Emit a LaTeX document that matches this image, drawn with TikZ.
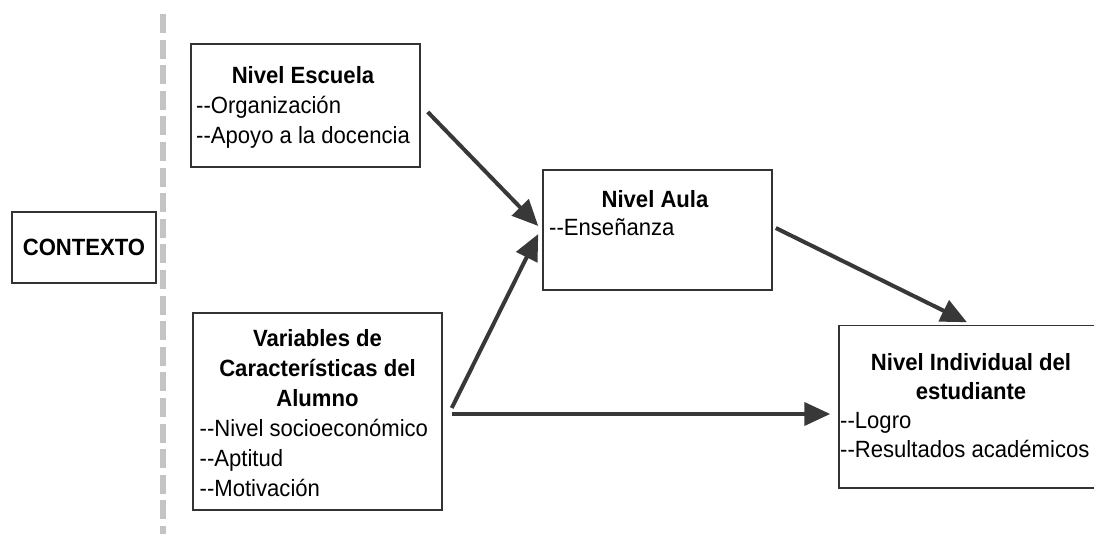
\documentclass[tikz,border=0pt]{standalone}
\usepackage{fontspec}
\setmainfont{Liberation Sans}[FakeStretch=0.94]
\usetikzlibrary{arrows.meta}
\definecolor{boxcol}{HTML}{333333}
\definecolor{arrcol}{HTML}{383838}
\definecolor{dashcol}{HTML}{C4C4C4}
\newcommand\dd{-\kern0pt-}
\begin{document}
\begin{tikzpicture}[x=1pt,y=-1pt,
  box/.style={draw=boxcol,line width=1.5pt,inner sep=0pt,fill=white},
  head/.style={inner sep=0pt,anchor=north,align=center,font=\fontsize{23.5}{30}\selectfont\bfseries},
  list/.style={inner sep=0pt,anchor=north west,align=left,font=\fontsize{23.5}{30}\selectfont},
  arr/.style={draw=arrcol,line width=4pt,-{Triangle[length=26pt,width=23pt]}},
  sep/.style={draw=dashcol,line width=5.5pt,dash pattern=on 19pt off 6.6pt}]
\useasboundingbox[fill=white] (0,0) rectangle (1094,534);
% separator
\coordinate (sepTop) at (163,14);
\coordinate (sepBot) at (163,545);
\draw[sep] (sepTop) -- (sepBot);
% boxes
\node[box,minimum width=144pt,minimum height=71pt,font=\fontsize{23.5}{30}\selectfont\bfseries] (ctx) at (84,247.5) {CONTEXTO};
\node[box,minimum width=229pt,minimum height=123pt] (esc) at (305.5,105.5) {};
\node[box,minimum width=229pt,minimum height=120pt] (aula) at (657.5,230) {};
\node[box,minimum width=249pt,minimum height=197pt] (var) at (317.5,411.5) {};
\node[box,minimum width=264pt,minimum height=162.5pt] (ind) at (971,406.75) {};
% texts: baseline - 21 = top
\node[head] (escH) at (303,62.5) {\strut Nivel Escuela};
\node[list] (escL) at (196,92.5) {\strut\dd Organización\\\strut\dd Apoyo a la docencia};
\node[head,font=\fontsize{23.5}{28}\selectfont\bfseries] (aulaH) at (655,187.4) {\strut Nivel Aula};
\node[list,font=\fontsize{23.5}{28}\selectfont] (aulaL) at (549,215.4) {\strut\dd Enseñanza};
\node[head] (varH) at (317.5,325) {\strut Variables de\\\strut Características del\\\strut Alumno};
\node[list] (varL) at (199.5,415) {\strut\dd Nivel socioeconómico\\\strut\dd Aptitud\\\strut\dd Motivación};
\node[head,font=\fontsize{23.5}{29}\selectfont\bfseries] (indH) at (971,349.7) {\strut Nivel Individual del\\\strut estudiante};
\node[list,font=\fontsize{23.5}{29}\selectfont] (indL) at (840,407.7) {\strut\dd Logro\\\strut\dd Resultados académicos};
% arrows
\draw[arr] ([shift={(7,6.5)}]esc.east) -- ([shift={(-4,-4)}]aula.west);
\draw[arr] ([shift={(9,-3.5)}]var.east) -- ([shift={(-4,4)}]aula.west);
\draw[arr] ([shift={(9,2.5)}]var.east) -- ([shift={(-8,7.25)}]ind.west);
\draw[arr] ([shift={(3,-2)}]aula.east) -- ([shift={(-4,-2.5)}]ind.north);
\end{tikzpicture}
\end{document}
